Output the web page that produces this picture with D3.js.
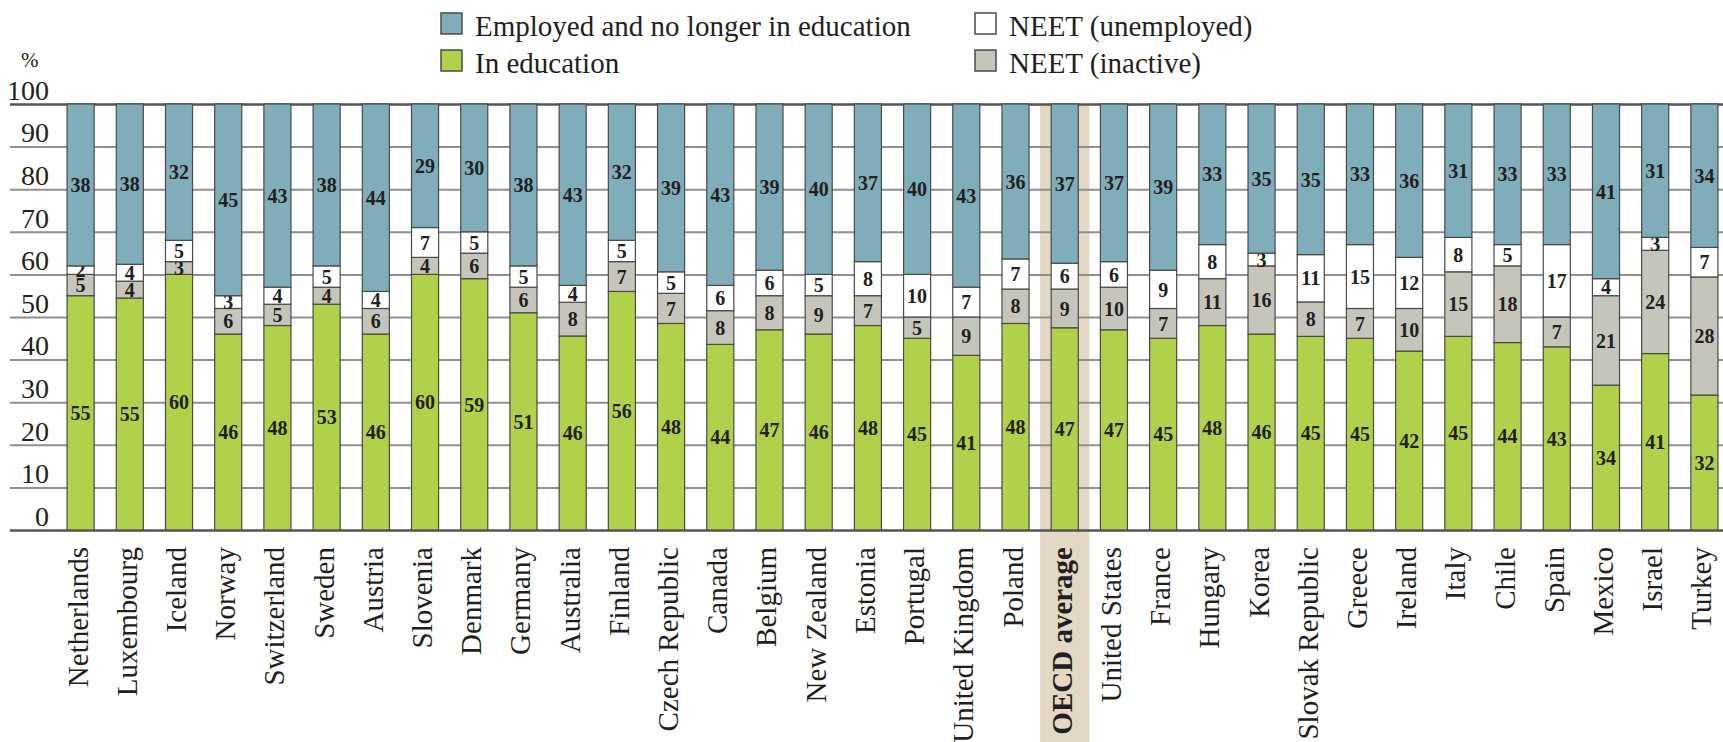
<!DOCTYPE html>
<html>
<head>
<meta charset="utf-8">
<script src="https://cdn.jsdelivr.net/npm/d3@7"></script>
<style>
  body { margin: 0; background: #fff; }
  svg { display: block; font-family: "Liberation Serif", "DejaVu Serif", serif; }
</style>
</head>
<body>
<svg id="chart" width="1723" height="742"></svg>
<script>
var countries = ['Netherlands', 'Luxembourg', 'Iceland', 'Norway', 'Switzerland', 'Sweden', 'Austria',
  'Slovenia', 'Denmark', 'Germany', 'Australia', 'Finland', 'Czech Republic', 'Canada', 'Belgium',
  'New Zealand', 'Estonia', 'Portugal', 'United Kingdom', 'Poland', 'OECD average', 'United States',
  'France', 'Hungary', 'Korea', 'Slovak Republic', 'Greece', 'Ireland', 'Italy', 'Chile', 'Spain',
  'Mexico', 'Israel', 'Turkey'];

var inEducation    = [55, 55, 60, 46, 48, 53, 46, 60, 59, 51, 46, 56, 48, 44, 47, 46, 48, 45, 41, 48, 47, 47, 45, 48, 46, 45, 45, 42, 45, 44, 43, 34, 41, 32];
var neetInactive   = [ 5,  4,  3,  6,  5,  4,  6,  4,  6,  6,  8,  7,  7,  8,  8,  9,  7,  5,  9,  8,  9, 10,  7, 11, 16,  8,  7, 10, 15, 18,  7, 21, 24, 28];
var neetUnemployed = [ 2,  4,  5,  3,  4,  5,  4,  7,  5,  5,  4,  5,  5,  6,  6,  5,  8, 10,  7,  7,  6,  6,  9,  8,  3, 11, 15, 12,  8,  5, 17,  4,  3,  7];
var employed       = [38, 38, 32, 45, 43, 38, 44, 29, 30, 38, 43, 32, 39, 43, 39, 40, 37, 40, 43, 36, 37, 37, 39, 33, 35, 35, 33, 36, 31, 33, 33, 41, 31, 34];

var yTicks = [0, 10, 20, 30, 40, 50, 60, 70, 80, 90, 100];
var highlight = 'OECD average';

var W = 1723, H = 742;
var svg = d3.select('#chart');

var rows = countries.map(function (c, i) {
  return {country: c, edu: inEducation[i], inactive: neetInactive[i], unemployed: neetUnemployed[i], employed: employed[i]};
});
var keys = ['edu', 'inactive', 'unemployed', 'employed'];
var color = {edu: '#b1d14b', inactive: '#c6c5bc', unemployed: '#ffffff', employed: '#7fadba'};

// shares of each group, stacked to 100%
var stacked = d3.stack().keys(keys).offset(d3.stackOffsetExpand)(rows);

var x = d3.scaleBand().domain(countries).range([56, 1729]).paddingInner(0.45).paddingOuter(0.225);
var y = d3.scaleLinear().domain([0, 1]).range([530, 104]);
var bw = x.bandwidth();

// highlighted column for the average
svg.append('rect')
  .attr('x', x(highlight) + bw / 2 - x.step() / 2)
  .attr('y', y(1))
  .attr('width', x.step())
  .attr('height', H - y(1))
  .attr('fill', '#e3d8c5');

// y axis with gridlines
var yAxis = svg.append('g')
  .attr('transform', 'translate(10,0)')
  .call(d3.axisLeft(y)
    .tickValues(yTicks.map(function (t) { return t / 100; }))
    .tickSize(-(W - 10))
    .tickFormat(function (d, i) { return yTicks[i]; }));
yAxis.select('.domain').remove();
yAxis.selectAll('.tick line')
  .attr('stroke', function (d) { return (d === 0 || d === 1) ? '#555' : '#8f8f8f'; })
  .attr('stroke-width', function (d) { return (d === 0 || d === 1) ? 2.5 : 2; });
yAxis.selectAll('.tick text')
  .attr('x', 39)
  .attr('dy', '-0.17em')
  .attr('fill', '#231f20')
  .style('font-size', '28px')
  .style('font-family', '"Liberation Serif", serif');

svg.append('text')
  .attr('x', 21).attr('y', 67)
  .attr('fill', '#231f20')
  .style('font-size', '21px')
  .text('%');

// bars
var layer = svg.append('g').selectAll('g')
  .data(stacked)
  .enter().append('g')
  .attr('fill', function (d) { return color[d.key]; });

layer.selectAll('rect')
  .data(function (d) { return d; })
  .enter().append('rect')
  .attr('x', function (d) { return x(d.data.country); })
  .attr('y', function (d) { return y(d[1]); })
  .attr('width', bw)
  .attr('height', function (d) { return y(d[0]) - y(d[1]); })
  .attr('stroke', '#4a4a4a')
  .attr('stroke-width', 1.2);

// value labels
layer.each(function (s) {
  d3.select(this).selectAll('text')
    .data(s)
    .enter().append('text')
    .attr('x', function (d) { return x(d.data.country) + bw / 2; })
    .attr('y', function (d) { return (y(d[0]) + y(d[1])) / 2; })
    .attr('dy', '0.36em')
    .attr('text-anchor', 'middle')
    .attr('fill', '#231f20')
    .style('font-size', '20px')
    .style('font-weight', 'bold')
    .text(function (d) { return d.data[s.key]; });
});

// country labels
svg.append('g').selectAll('text')
  .data(countries)
  .enter().append('text')
  .attr('transform', function (d) { return 'translate(' + (x(d) + bw / 2 + 7) + ',547) rotate(-90)'; })
  .attr('text-anchor', 'end')
  .attr('fill', '#231f20')
  .style('font-size', '29px')
  .style('font-weight', function (d) { return d === highlight ? 'bold' : 'normal'; })
  .text(function (d) { return d; });

// legend
var legend = [
  {key: 'employed', label: 'Employed and no longer in education', col: 0, row: 0},
  {key: 'edu', label: 'In education', col: 0, row: 1},
  {key: 'unemployed', label: 'NEET (unemployed)', col: 1, row: 0},
  {key: 'inactive', label: 'NEET (inactive)', col: 1, row: 1}
];
var legendX = [441, 975];
var lg = svg.append('g').selectAll('g')
  .data(legend)
  .enter().append('g')
  .attr('transform', function (d) { return 'translate(' + legendX[d.col] + ',' + (13 + d.row * 37) + ')'; });
lg.append('rect')
  .attr('width', 21).attr('height', 21)
  .attr('fill', function (d) { return color[d.key]; })
  .attr('stroke', '#4a4a4a')
  .attr('stroke-width', 1.5);
lg.append('text')
  .attr('x', 34).attr('y', 23)
  .attr('fill', '#231f20')
  .style('font-size', '29px')
  .text(function (d) { return d.label; });
</script>
</body>
</html>
